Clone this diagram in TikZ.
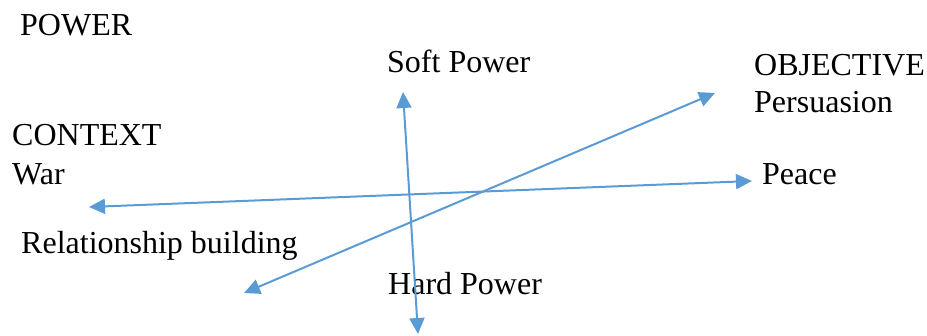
\documentclass[tikz,border=0pt]{standalone}
\usepackage{fontspec}
\setmainfont{Liberation Serif}
\usetikzlibrary{arrows.meta}
\definecolor{axisblue}{RGB}{91,155,213}
\begin{document}
\begin{tikzpicture}[x=1pt,y=-1pt,
  lbl/.style={anchor=base west,inner sep=0pt,font=\fontsize{32}{38}\selectfont},
  axis/.style={draw=axisblue,line width=2pt,
    {Triangle[length=16pt,width=15pt]}-{Triangle[length=16pt,width=15pt]}}]
\useasboundingbox (0,0) rectangle (927,336);

% labels
\node[lbl] (power)   at (20,36)  {POWER};
\node[lbl] (soft)    at (387,73) {Soft Power};
\node[lbl] (obj)     at (754,76) {OBJECTIVE};
\node[lbl] (pers)    at (754,113) {Persuasion};
\node[lbl] (context) at (12,146) {CONTEXT};
\node[lbl] (war)     at (12,185) {War};
\node[lbl] (peace)   at (762,185) {Peace};
\node[lbl] (rel)     at (21,254) {Relationship building};
\node[lbl] (hard)    at (388,295) {Hard Power};

% axis end points
\coordinate (softEnd)  at (403,92);
\coordinate (hardEnd)  at (418,334);
\coordinate (objEnd)   at (715,93);
\coordinate (relEnd)   at (244,293);
\coordinate (warEnd)   at (89,207);
\coordinate (peaceEnd) at (752,181);

% axes
\draw[axis] (softEnd) -- (hardEnd);
\draw[axis] (objEnd) -- (relEnd);
\draw[axis] (warEnd) -- (peaceEnd);
\end{tikzpicture}
\end{document}
